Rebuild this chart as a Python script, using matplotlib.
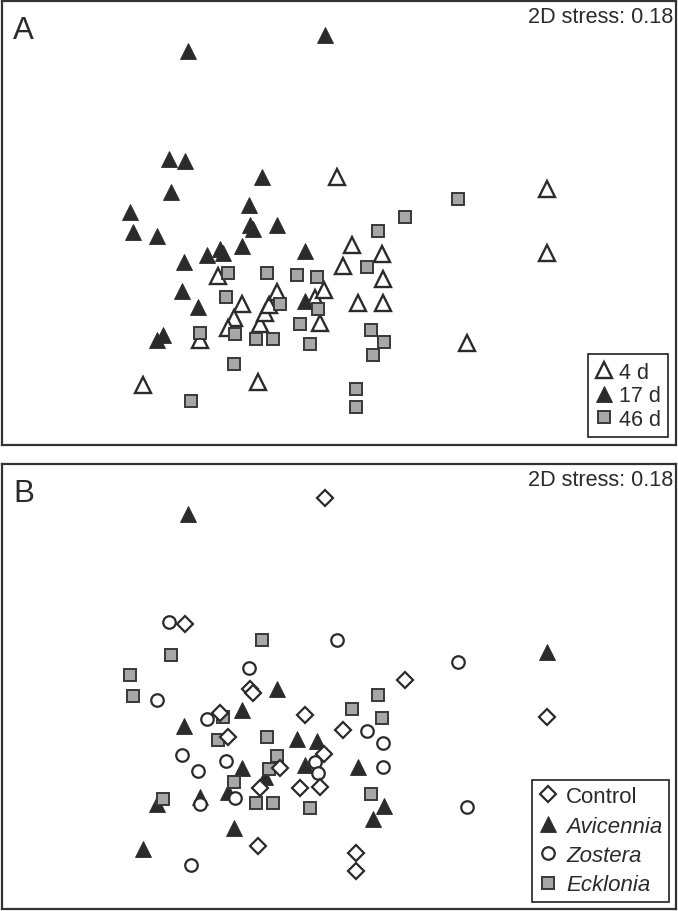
import matplotlib
matplotlib.use("Agg")
import matplotlib.pyplot as plt
from matplotlib.lines import Line2D

plt.rcParams['font.family'] = ['Liberation Sans', 'DejaVu Sans']

# ---- NMDS ordination (same configuration in both panels; arbitrary units,
# ---- axis 2 read downward from the top of the plot) ----
day4_x = [337, 547, 352, 382, 343, 383, 358, 383, 547, 467, 218, 242,
          234, 228, 200, 260, 265, 269, 277, 315, 324, 320, 143, 258]
day4_y = [178, 190, 247, 256, 268, 281, 305, 305, 255, 345, 278, 306,
          320, 330, 342, 326, 315, 307, 294, 300, 292, 325, 387, 384]
day4_trt = ['Z', 'A', 'E', 'E', 'C', 'Z', 'A', 'Z', 'C', 'Z', 'E', 'A',
            'E', 'A', 'Z', 'C', 'A', 'E', 'E', 'Z', 'C', 'C', 'A', 'C']

day17_x = [188, 325, 169, 185, 262, 171, 249, 130, 250, 253, 277, 133,
           157, 207, 220, 223, 242, 305, 184, 182, 198, 305, 157, 163]
day17_y = [52, 36, 160, 162, 178, 193, 206, 213, 227, 231, 227, 234,
           238, 257, 251, 255, 248, 253, 264, 293, 309, 303, 342, 337]
day17_trt = ['A', 'C', 'Z', 'C', 'E', 'E', 'Z', 'E', 'C', 'C', 'A', 'E',
             'Z', 'Z', 'C', 'E', 'A', 'C', 'A', 'Z', 'Z', 'A', 'A', 'E']

day46_x = [458, 405, 378, 367, 371, 384, 373, 356, 356, 228, 267, 297,
           317, 226, 280, 318, 300, 200, 235, 256, 273, 310, 234, 191]
day46_y = [200, 218, 233, 269, 332, 344, 357, 391, 409, 275, 275, 277,
           279, 299, 306, 311, 326, 335, 336, 341, 341, 346, 366, 403]
day46_trt = ['Z', 'C', 'E', 'Z', 'E', 'A', 'A', 'C', 'C', 'C', 'E', 'A',
             'A', 'Z', 'C', 'Z', 'C', 'A', 'Z', 'E', 'E', 'E', 'A', 'Z']

time_labels = ['4 d', '17 d', '46 d']
treatment_codes = ['C', 'A', 'Z', 'E']
treatment_labels = ['Control', 'Avicennia', 'Zostera', 'Ecklonia']
stress_text = '2D stress: 0.18'

# ---- styles ----
DARK = '#2b2b2b'
GREY = '#a7a7a9'
SQEDGE = '#383838'
open_tri = dict(marker='^', ms=11, mfc='white', mec=DARK, mew=1.7, ls='none')
fill_tri = dict(marker='^', ms=12, mfc=DARK, mec=DARK, mew=0.6, ls='none')
grey_sq = dict(marker='s', ms=8, mfc=GREY, mec=SQEDGE, mew=1.4, ls='none')
open_dia = dict(marker='D', ms=7.8, mfc='white', mec=DARK, mew=1.6, ls='none')
open_circ = dict(marker='o', ms=9, mfc='white', mec=DARK, mew=1.6, ls='none')

W, H = 678, 912
fig = plt.figure(figsize=(W / 100, H / 100), dpi=100)
axA = fig.add_axes([2 / W, 1 - 446 / H, 674 / W, 444 / H])
axB = fig.add_axes([2 / W, 1 - 910 / H, 674 / W, 445 / H])

for ax in (axA, axB):
    ax.set_xlim(2, 676)
    ax.set_ylim(447, 2)
    ax.set_xticks([])
    ax.set_yticks([])
    for sp in ax.spines.values():
        sp.set_linewidth(1.6)
        sp.set_color('#333333')

# ---- panel A: by sampling time ----
axA.plot(day4_x, day4_y, **open_tri)
axA.plot(day17_x, day17_y, **fill_tri)
axA.plot(day46_x, day46_y, **grey_sq)

# ---- panel B: by treatment ----
all_x = day4_x + day17_x + day46_x
all_y = day4_y + day17_y + day46_y
all_t = day4_trt + day17_trt + day46_trt
styles = {'C': open_dia, 'A': fill_tri, 'Z': open_circ, 'E': grey_sq}
for code in ['A', 'Z', 'E', 'C']:
    xs = [x for x, t in zip(all_x, all_t) if t == code]
    ys = [y for y, t in zip(all_y, all_t) if t == code]
    axB.plot(xs, ys, **styles[code])

# ---- texts ----
for ax, lab in ((axA, 'A'), (axB, 'B')):
    ax.text(0.0165, 0.968, lab, transform=ax.transAxes, fontsize=22.5,
            ha='left', va='top', color=DARK)
    ax.text(0.9955, 0.988, stress_text, transform=ax.transAxes, fontsize=15.6,
            ha='right', va='top', color=DARK)

# ---- legends ----
hA = [Line2D([], [], **open_tri), Line2D([], [], **fill_tri), Line2D([], [], **grey_sq)]
legA = axA.legend(hA, time_labels, loc='lower right', fontsize=15.5,
                  frameon=True, fancybox=False, framealpha=1, edgecolor='#333333',
                  borderpad=0.35, handlelength=0.85, handletextpad=0.25,
                  labelspacing=0.12, borderaxespad=0.35)
legA.get_frame().set_linewidth(1.3)
for t in legA.get_texts():
    t.set_color(DARK)

hB = [Line2D([], [], **styles[c]) for c in treatment_codes]
legB = axB.legend(hB, treatment_labels, loc='lower right', fontsize=16,
                  frameon=True, fancybox=False, framealpha=1, edgecolor='#333333',
                  borderpad=0.28, handlelength=0.85, handletextpad=0.4,
                  labelspacing=0.38, borderaxespad=0.33)
legB.get_frame().set_linewidth(1.3)
for t in legB.get_texts():
    t.set_color(DARK)
    if t.get_text() != 'Control':
        t.set_fontstyle('italic')

fig.savefig('out.png', dpi=100, facecolor='white')
